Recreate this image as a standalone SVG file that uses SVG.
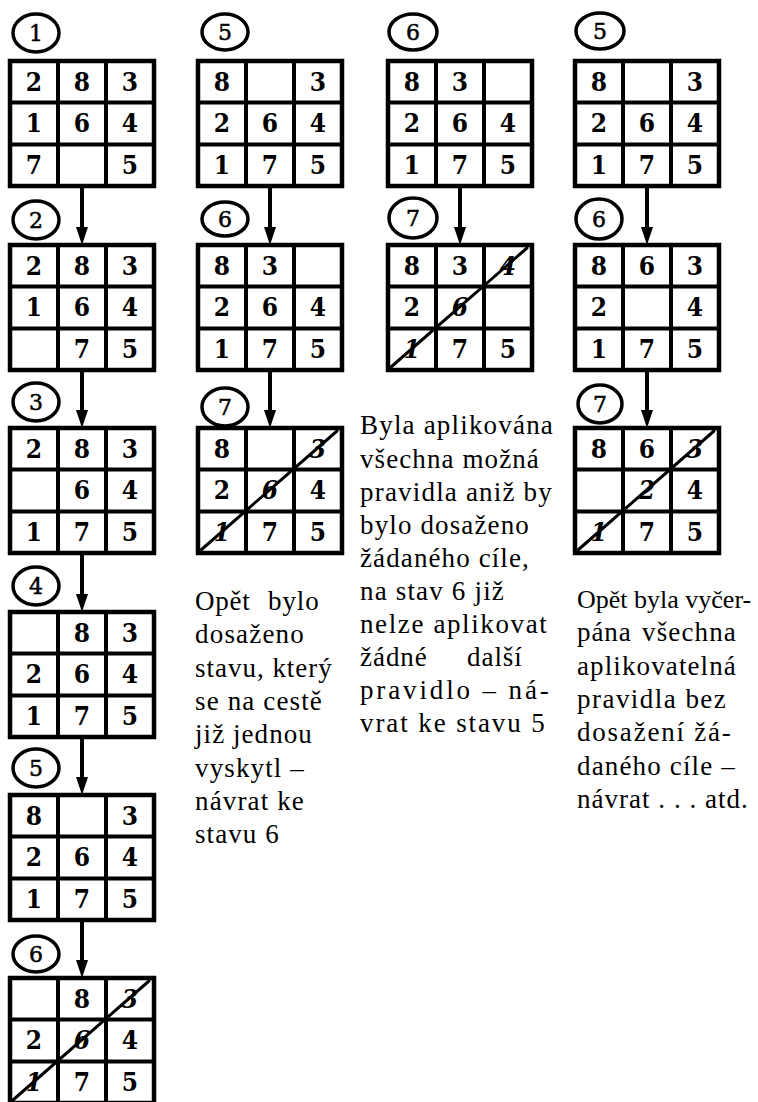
<svg xmlns="http://www.w3.org/2000/svg" xmlns:xlink="http://www.w3.org/1999/xlink" width="758" height="1102" viewBox="0 0 758 1102">
<style>
.fr{fill:none;stroke:#000;stroke-width:4.5}
.in{stroke:#000;stroke-width:4}
.d{font-family:"DejaVu Serif Condensed","DejaVu Serif","Liberation Serif",serif;font-weight:bold;font-size:26px;text-anchor:middle;fill:#000}
.x{font-style:italic}
.sl{stroke:#000;stroke-width:3;stroke-linecap:round}
.ov{fill:none;stroke:#000;stroke-width:3.5}
.lt{font-family:"DejaVu Serif","Liberation Serif",serif;font-size:22px;text-anchor:middle;fill:#000;stroke:#000;stroke-width:0.5}
.t{font-family:"Liberation Serif","Times New Roman",serif;font-size:27px;letter-spacing:1.2px;fill:#000}
.c{stroke:#000;stroke-width:4;fill:none;marker-end:url(#ah)}
</style>
<defs>
<marker id="ah" markerUnits="userSpaceOnUse" viewBox="0 0 18 12" refX="4" refY="6" markerWidth="18" markerHeight="12" orient="auto"><path d="M0,0 L18,6 L0,12 z" fill="#000"/></marker>
<g id="frame"><rect class="fr" x="0" y="0" width="144" height="125"/><line class="in" x1="48" y1="0" x2="48" y2="125"/><line class="in" x1="96" y1="0" x2="96" y2="125"/><line class="in" x1="0" y1="41.5" x2="144" y2="41.5"/><line class="in" x1="0" y1="83.5" x2="144" y2="83.5"/></g>
</defs>

<!-- column 1 -->
<g id="c1s1" transform="translate(10,61)"><use xlink:href="#frame"/><ellipse class="ov" cx="26" cy="-28" rx="23" ry="19"/><text class="lt" x="26" y="-20">1</text>
<text class="d" x="24" y="30">2</text><text class="d" x="72" y="30">8</text><text class="d" x="120" y="30">3</text>
<text class="d" x="24" y="71">1</text><text class="d" x="72" y="71">6</text><text class="d" x="120" y="71">4</text>
<text class="d" x="24" y="113">7</text><text class="d" x="120" y="113">5</text></g>
<g id="c1s2" transform="translate(10,245)"><use xlink:href="#frame"/><ellipse class="ov" cx="26" cy="-25" rx="23" ry="19"/><text class="lt" x="26" y="-17">2</text>
<text class="d" x="24" y="30">2</text><text class="d" x="72" y="30">8</text><text class="d" x="120" y="30">3</text>
<text class="d" x="24" y="71">1</text><text class="d" x="72" y="71">6</text><text class="d" x="120" y="71">4</text>
<text class="d" x="72" y="113">7</text><text class="d" x="120" y="113">5</text></g>
<g id="c1s3" transform="translate(10,428)"><use xlink:href="#frame"/><ellipse class="ov" cx="26" cy="-26" rx="23" ry="19"/><text class="lt" x="26" y="-18">3</text>
<text class="d" x="24" y="30">2</text><text class="d" x="72" y="30">8</text><text class="d" x="120" y="30">3</text>
<text class="d" x="72" y="71">6</text><text class="d" x="120" y="71">4</text>
<text class="d" x="24" y="113">1</text><text class="d" x="72" y="113">7</text><text class="d" x="120" y="113">5</text></g>
<g id="c1s4" transform="translate(10,612)"><use xlink:href="#frame"/><ellipse class="ov" cx="26" cy="-26" rx="23" ry="19"/><text class="lt" x="26" y="-18">4</text>
<text class="d" x="72" y="30">8</text><text class="d" x="120" y="30">3</text>
<text class="d" x="24" y="71">2</text><text class="d" x="72" y="71">6</text><text class="d" x="120" y="71">4</text>
<text class="d" x="24" y="113">1</text><text class="d" x="72" y="113">7</text><text class="d" x="120" y="113">5</text></g>
<g id="c1s5" transform="translate(10,795)"><use xlink:href="#frame"/><ellipse class="ov" cx="26" cy="-27" rx="23" ry="19"/><text class="lt" x="26" y="-19">5</text>
<text class="d" x="24" y="30">8</text><text class="d" x="120" y="30">3</text>
<text class="d" x="24" y="71">2</text><text class="d" x="72" y="71">6</text><text class="d" x="120" y="71">4</text>
<text class="d" x="24" y="113">1</text><text class="d" x="72" y="113">7</text><text class="d" x="120" y="113">5</text></g>
<g id="c1s6" transform="translate(10,978)"><use xlink:href="#frame"/><ellipse class="ov" cx="26" cy="-24" rx="23" ry="18"/><text class="lt" x="26" y="-16">6</text>
<text class="d" x="72" y="30">8</text><text class="d x" x="120" y="30">3</text>
<text class="d" x="24" y="71">2</text><text class="d x" x="72" y="71">6</text><text class="d" x="120" y="71">4</text>
<text class="d x" x="24" y="113">1</text><text class="d" x="72" y="113">7</text><text class="d" x="120" y="113">5</text>
<line class="sl" x1="3" y1="122" x2="139" y2="3"/></g>

<!-- column 2 -->
<g id="c2s5" transform="translate(198,61)"><use xlink:href="#frame"/><ellipse class="ov" cx="27" cy="-29" rx="23" ry="18"/><text class="lt" x="27" y="-21">5</text>
<text class="d" x="24" y="30">8</text><text class="d" x="120" y="30">3</text>
<text class="d" x="24" y="71">2</text><text class="d" x="72" y="71">6</text><text class="d" x="120" y="71">4</text>
<text class="d" x="24" y="113">1</text><text class="d" x="72" y="113">7</text><text class="d" x="120" y="113">5</text></g>
<g id="c2s6" transform="translate(198,245)"><use xlink:href="#frame"/><ellipse class="ov" cx="27" cy="-26" rx="23" ry="17"/><text class="lt" x="27" y="-18">6</text>
<text class="d" x="24" y="30">8</text><text class="d" x="72" y="30">3</text>
<text class="d" x="24" y="71">2</text><text class="d" x="72" y="71">6</text><text class="d" x="120" y="71">4</text>
<text class="d" x="24" y="113">1</text><text class="d" x="72" y="113">7</text><text class="d" x="120" y="113">5</text></g>
<g id="c2s7" transform="translate(198,428)"><use xlink:href="#frame"/><ellipse class="ov" cx="27" cy="-21" rx="23" ry="19"/><text class="lt" x="27" y="-13">7</text>
<text class="d" x="24" y="30">8</text><text class="d x" x="120" y="30">3</text>
<text class="d" x="24" y="71">2</text><text class="d x" x="72" y="71">6</text><text class="d" x="120" y="71">4</text>
<text class="d x" x="24" y="113">1</text><text class="d" x="72" y="113">7</text><text class="d" x="120" y="113">5</text>
<line class="sl" x1="3" y1="122" x2="139" y2="3"/></g>

<!-- column 3 -->
<g id="c3s6" transform="translate(388,61)"><use xlink:href="#frame"/><ellipse class="ov" cx="25" cy="-29" rx="24" ry="18"/><text class="lt" x="25" y="-21">6</text>
<text class="d" x="24" y="30">8</text><text class="d" x="72" y="30">3</text>
<text class="d" x="24" y="71">2</text><text class="d" x="72" y="71">6</text><text class="d" x="120" y="71">4</text>
<text class="d" x="24" y="113">1</text><text class="d" x="72" y="113">7</text><text class="d" x="120" y="113">5</text></g>
<g id="c3s7" transform="translate(388,245)"><use xlink:href="#frame"/><ellipse class="ov" cx="25" cy="-27" rx="24" ry="20"/><text class="lt" x="25" y="-19">7</text>
<text class="d" x="24" y="30">8</text><text class="d" x="72" y="30">3</text><text class="d x" x="120" y="30">4</text>
<text class="d" x="24" y="71">2</text><text class="d x" x="72" y="71">6</text>
<text class="d x" x="24" y="113">1</text><text class="d" x="72" y="113">7</text><text class="d" x="120" y="113">5</text>
<line class="sl" x1="3" y1="122" x2="139" y2="3"/></g>

<!-- column 4 -->
<g id="c4s5" transform="translate(575,61)"><use xlink:href="#frame"/><ellipse class="ov" cx="25" cy="-30" rx="24" ry="18"/><text class="lt" x="25" y="-22">5</text>
<text class="d" x="24" y="30">8</text><text class="d" x="120" y="30">3</text>
<text class="d" x="24" y="71">2</text><text class="d" x="72" y="71">6</text><text class="d" x="120" y="71">4</text>
<text class="d" x="24" y="113">1</text><text class="d" x="72" y="113">7</text><text class="d" x="120" y="113">5</text></g>
<g id="c4s6" transform="translate(575,245)"><use xlink:href="#frame"/><ellipse class="ov" cx="24" cy="-26" rx="23" ry="20"/><text class="lt" x="24" y="-18">6</text>
<text class="d" x="24" y="30">8</text><text class="d" x="72" y="30">6</text><text class="d" x="120" y="30">3</text>
<text class="d" x="24" y="71">2</text><text class="d" x="120" y="71">4</text>
<text class="d" x="24" y="113">1</text><text class="d" x="72" y="113">7</text><text class="d" x="120" y="113">5</text></g>
<g id="c4s7" transform="translate(575,428)"><use xlink:href="#frame"/><ellipse class="ov" cx="25" cy="-24" rx="22" ry="19"/><text class="lt" x="25" y="-16">7</text>
<text class="d" x="24" y="30">8</text><text class="d" x="72" y="30">6</text><text class="d x" x="120" y="30">3</text>
<text class="d x" x="72" y="71">2</text><text class="d" x="120" y="71">4</text>
<text class="d x" x="24" y="113">1</text><text class="d" x="72" y="113">7</text><text class="d" x="120" y="113">5</text>
<line class="sl" x1="3" y1="122" x2="139" y2="3"/></g>

<!-- connectors -->
<g id="connectors">
<line class="c" x1="82" y1="186" x2="82" y2="231"/>
<line class="c" x1="82" y1="370" x2="82" y2="414"/>
<line class="c" x1="82" y1="553" x2="82" y2="598"/>
<line class="c" x1="82" y1="737" x2="82" y2="781"/>
<line class="c" x1="82" y1="920" x2="82" y2="964"/>
<line class="c" x1="270" y1="186" x2="270" y2="231"/>
<line class="c" x1="270" y1="370" x2="270" y2="414"/>
<line class="c" x1="460" y1="186" x2="460" y2="231"/>
<line class="c" x1="647" y1="186" x2="647" y2="231"/>
<line class="c" x1="647" y1="370" x2="647" y2="414"/>
</g>

<!-- texts -->
<g id="note2">
<text class="t" x="195" y="610" textLength="56" lengthAdjust="spacing">Opět</text>
<text class="t" x="268" y="610" textLength="52" lengthAdjust="spacing">bylo</text>
<text class="t" x="195" y="643" textLength="110" lengthAdjust="spacing">dosaženo</text>
<text class="t" x="195" y="677" textLength="138" lengthAdjust="spacing">stavu, který</text>
<text class="t" x="195" y="710" textLength="128" lengthAdjust="spacing">se na cestě</text>
<text class="t" x="195" y="743" textLength="118" lengthAdjust="spacing">již jednou</text>
<text class="t" x="195" y="777" textLength="110" lengthAdjust="spacing">vyskytl –</text>
<text class="t" x="195" y="810" textLength="110" lengthAdjust="spacing">návrat ke</text>
<text class="t" x="195" y="843" textLength="85" lengthAdjust="spacing">stavu 6</text>
</g>
<g id="note3">
<text class="t" x="360" y="434" textLength="194" lengthAdjust="spacing">Byla aplikována</text>
<text class="t" x="360" y="468" textLength="180" lengthAdjust="spacing">všechna možná</text>
<text class="t" x="360" y="501" textLength="193" lengthAdjust="spacing">pravidla aniž by</text>
<text class="t" x="360" y="534" textLength="170" lengthAdjust="spacing">bylo dosaženo</text>
<text class="t" x="360" y="567" textLength="170" lengthAdjust="spacing">žádaného cíle,</text>
<text class="t" x="360" y="600" textLength="145" lengthAdjust="spacing">na stav 6 již</text>
<text class="t" x="360" y="633" textLength="188" lengthAdjust="spacing">nelze aplikovat</text>
<text class="t" x="360" y="666" textLength="68" lengthAdjust="spacing">žádné</text>
<text class="t" x="467" y="666" textLength="56" lengthAdjust="spacing">další</text>
<text class="t" x="360" y="699" textLength="190" lengthAdjust="spacing">pravidlo – ná-</text>
<text class="t" x="360" y="732" textLength="186" lengthAdjust="spacing">vrat ke stavu 5</text>
</g>
<g id="note4">
<text class="t" x="577" y="608" style="font-size:26px;letter-spacing:0">Opět byla vyčer-</text>
<text class="t" x="577" y="641" textLength="55" lengthAdjust="spacing">pána</text>
<text class="t" x="642" y="641" textLength="95" lengthAdjust="spacing">všechna</text>
<text class="t" x="577" y="675" textLength="160" lengthAdjust="spacing">aplikovatelná</text>
<text class="t" x="577" y="708" textLength="150" lengthAdjust="spacing">pravidla bez</text>
<text class="t" x="577" y="741" textLength="155" lengthAdjust="spacing">dosažení žá-</text>
<text class="t" x="577" y="775" textLength="159" lengthAdjust="spacing">daného cíle –</text>
<text class="t" x="577" y="808" textLength="172" lengthAdjust="spacing">návrat . . .  atd.</text>
</g>
</svg>
